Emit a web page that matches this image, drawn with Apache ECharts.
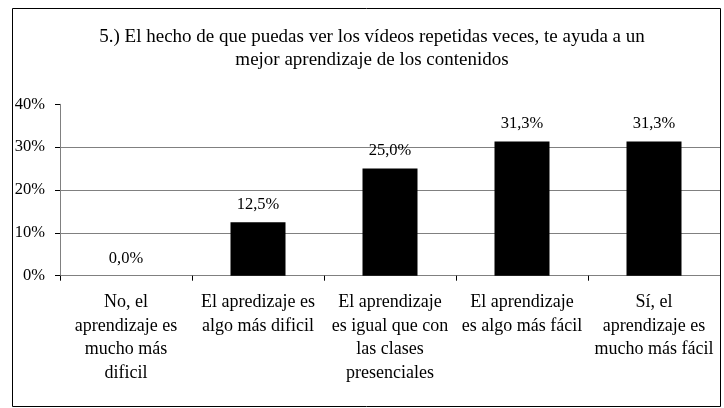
<!DOCTYPE html>
<html>
<head>
<meta charset="utf-8">
<script src="https://cdn.jsdelivr.net/npm/echarts@6/dist/echarts.min.js"></script>
<style>html,body{margin:0;padding:0;background:#fff}#c{width:724px;height:408px}</style>
</head>
<body>
<div id="c"></div>
<script>
var titleText = '5.) El hecho de que puedas ver los vídeos repetidas veces, te ayuda a un\nmejor aprendizaje de los contenidos';
var categories = [
  'No, el\naprendizaje es\nmucho más\ndificil',
  'El apredizaje es\nalgo más dificil',
  'El aprendizaje\nes igual que con\nlas clases\npresenciales',
  'El aprendizaje\nes algo más fácil',
  'Sí, el\naprendizaje es\nmucho más fácil'
];
var values = [0.0, 12.5, 25.0, 31.3, 31.3];
var yTicks = [0, 10, 20, 30, 40];

var chart = echarts.init(document.getElementById('c'), null, {renderer: 'canvas'});
var font = '"Liberation Serif", "Times New Roman", serif';
chart.setOption({
  animation: false,
  backgroundColor: '#fff',
  title: {
    text: titleText,
    left: 367,
    textAlign: 'center',
    top: 21,
    textStyle: {fontFamily: font, fontSize: 19, fontWeight: 'normal', color: '#000', lineHeight: 23}
  },
  graphic: [{
    type: 'rect',
    shape: {x: 12.5, y: 8.5, width: 708, height: 398},
    style: {fill: 'none', stroke: '#000', lineWidth: 1},
    silent: true,
    z: 100
  }],
  grid: {left: 60, right: 4, top: 104.3, bottom: 132.3, containLabel: false},
  xAxis: {
    type: 'category',
    data: categories,
    axisLine: {show: true, lineStyle: {color: '#808080', width: 1}},
    axisTick: {show: true, length: 5, lineStyle: {color: '#000'}},
    axisLabel: {
      interval: 0, margin: 15,
      fontFamily: font, fontSize: 18, color: '#000', lineHeight: 23.5, align: 'center'
    },
    splitLine: {show: false}
  },
  yAxis: {
    type: 'value',
    min: yTicks[0], max: yTicks[yTicks.length - 1], interval: 10,
    axisLine: {show: true, lineStyle: {color: '#808080', width: 1}},
    axisTick: {show: true, length: 5, lineStyle: {color: '#000'}},
    axisLabel: {formatter: '{value}%', fontFamily: font, fontSize: 16.5, color: '#000', margin: 15},
    splitLine: {show: true, showMinLine: false, showMaxLine: false, lineStyle: {color: '#808080', width: 1}}
  },
  series: [{
    type: 'bar',
    data: values,
    barWidth: 55,
    itemStyle: {color: '#000'},
    label: {
      show: true, position: 'top', distance: 9,
      fontFamily: font, fontSize: 16.5, color: '#000',
      formatter: function (p) { return p.value.toFixed(1).replace('.', ',') + '%'; }
    }
  }]
});
</script>
</body>
</html>
